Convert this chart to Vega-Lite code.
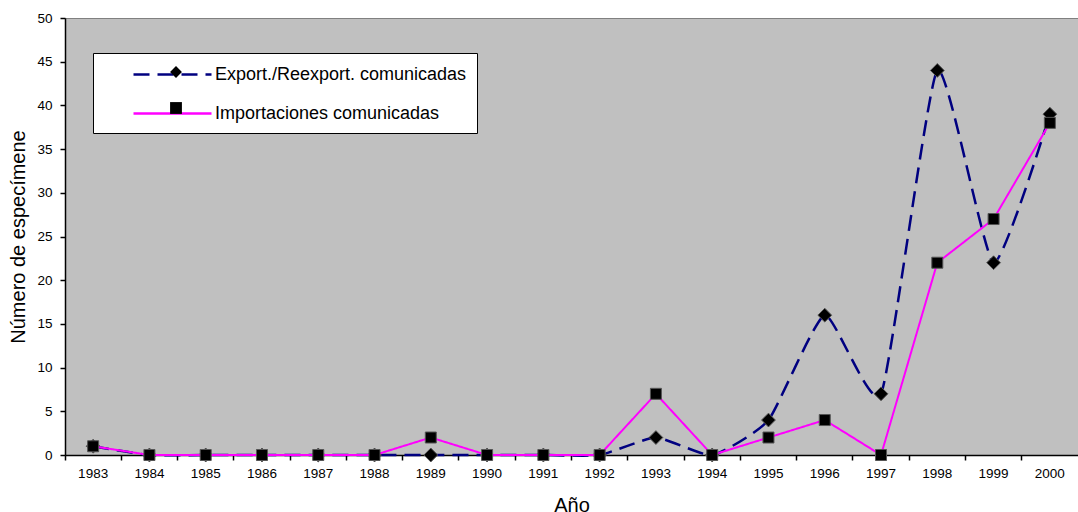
{
  "$schema": "https://vega.github.io/schema/vega-lite/v6.json",
  "width": 1013,
  "height": 437,
  "autosize": {"type": "none"},
  "padding": {"left": 65, "top": 18, "right": 0, "bottom": 57},
  "background": "white",
  "config": {
    "view": {"fill": "#C0C0C0", "stroke": "#808080", "strokeWidth": 1},
    "font": "Liberation Sans",
    "axis": {"grid": false, "labelFont": "Liberation Sans", "titleFont": "Liberation Sans", "labelColor": "black", "titleColor": "black", "tickColor": "black", "domainColor": "black", "titleFontWeight": "normal"}
  },
  "data": {
    "values": [
      {"anio": "1983", "serie": "Export./Reexport. comunicadas", "marca": "Export./Reexport. comunicadas", "valor": 1},
      {"anio": "1984", "serie": "Export./Reexport. comunicadas", "marca": "Export./Reexport. comunicadas", "valor": 0},
      {"anio": "1985", "serie": "Export./Reexport. comunicadas", "marca": "Export./Reexport. comunicadas", "valor": 0},
      {"anio": "1986", "serie": "Export./Reexport. comunicadas", "marca": "Export./Reexport. comunicadas", "valor": 0},
      {"anio": "1987", "serie": "Export./Reexport. comunicadas", "marca": "Export./Reexport. comunicadas", "valor": 0},
      {"anio": "1988", "serie": "Export./Reexport. comunicadas", "marca": "Export./Reexport. comunicadas", "valor": 0},
      {"anio": "1989", "serie": "Export./Reexport. comunicadas", "marca": "Export./Reexport. comunicadas", "valor": 0},
      {"anio": "1990", "serie": "Export./Reexport. comunicadas", "marca": "Export./Reexport. comunicadas", "valor": 0},
      {"anio": "1991", "serie": "Export./Reexport. comunicadas", "marca": "Export./Reexport. comunicadas", "valor": 0},
      {"anio": "1992", "serie": "Export./Reexport. comunicadas", "marca": "Export./Reexport. comunicadas", "valor": 0},
      {"anio": "1993", "serie": "Export./Reexport. comunicadas", "marca": "Export./Reexport. comunicadas", "valor": 2},
      {"anio": "1994", "serie": "Export./Reexport. comunicadas", "marca": "Export./Reexport. comunicadas", "valor": 0},
      {"anio": "1995", "serie": "Export./Reexport. comunicadas", "marca": "Export./Reexport. comunicadas", "valor": 4},
      {"anio": "1996", "serie": "Export./Reexport. comunicadas", "marca": "Export./Reexport. comunicadas", "valor": 16},
      {"anio": "1997", "serie": "Export./Reexport. comunicadas", "marca": "Export./Reexport. comunicadas", "valor": 7},
      {"anio": "1998", "serie": "Export./Reexport. comunicadas", "marca": "Export./Reexport. comunicadas", "valor": 44},
      {"anio": "1999", "serie": "Export./Reexport. comunicadas", "marca": "Export./Reexport. comunicadas", "valor": 22},
      {"anio": "2000", "serie": "Export./Reexport. comunicadas", "marca": "Export./Reexport. comunicadas", "valor": 39},
      {"anio": "1983", "serie": "Importaciones comunicadas", "marca": "Importaciones comunicadas", "valor": 1},
      {"anio": "1984", "serie": "Importaciones comunicadas", "marca": "Importaciones comunicadas", "valor": 0},
      {"anio": "1985", "serie": "Importaciones comunicadas", "marca": "Importaciones comunicadas", "valor": 0},
      {"anio": "1986", "serie": "Importaciones comunicadas", "marca": "Importaciones comunicadas", "valor": 0},
      {"anio": "1987", "serie": "Importaciones comunicadas", "marca": "Importaciones comunicadas", "valor": 0},
      {"anio": "1988", "serie": "Importaciones comunicadas", "marca": "Importaciones comunicadas", "valor": 0},
      {"anio": "1989", "serie": "Importaciones comunicadas", "marca": "Importaciones comunicadas", "valor": 2},
      {"anio": "1990", "serie": "Importaciones comunicadas", "marca": "Importaciones comunicadas", "valor": 0},
      {"anio": "1991", "serie": "Importaciones comunicadas", "marca": "Importaciones comunicadas", "valor": 0},
      {"anio": "1992", "serie": "Importaciones comunicadas", "marca": "Importaciones comunicadas", "valor": 0},
      {"anio": "1993", "serie": "Importaciones comunicadas", "marca": "Importaciones comunicadas", "valor": 7},
      {"anio": "1994", "serie": "Importaciones comunicadas", "marca": "Importaciones comunicadas", "valor": 0},
      {"anio": "1995", "serie": "Importaciones comunicadas", "marca": "Importaciones comunicadas", "valor": 2},
      {"anio": "1996", "serie": "Importaciones comunicadas", "marca": "Importaciones comunicadas", "valor": 4},
      {"anio": "1997", "serie": "Importaciones comunicadas", "marca": "Importaciones comunicadas", "valor": 0},
      {"anio": "1998", "serie": "Importaciones comunicadas", "marca": "Importaciones comunicadas", "valor": 22},
      {"anio": "1999", "serie": "Importaciones comunicadas", "marca": "Importaciones comunicadas", "valor": 27},
      {"anio": "2000", "serie": "Importaciones comunicadas", "marca": "Importaciones comunicadas", "valor": 38}
    ]
  },
  "encoding": {
    "x": {
      "field": "anio", "type": "ordinal", "bandPosition": 0.5,
      "scale": {"type": "band", "paddingInner": 0, "paddingOuter": 0},
      "axis": {"title": "Año", "titleFontSize": 20, "titlePadding": 16, "labelFontSize": 13.5, "labelAngle": 0, "tickSize": 5, "labelPadding": 6, "bandPosition": 0, "domainWidth": 1.5, "tickWidth": 1.5}
    },
    "y": {
      "field": "valor", "type": "quantitative",
      "scale": {"domain": [0, 50], "nice": false, "zero": true},
      "axis": {"title": "Número de especímene", "titleFontSize": 20, "titlePadding": 8, "values": [0, 5, 10, 15, 20, 25, 30, 35, 40, 45, 50], "labelFontSize": 13.5, "tickSize": 5, "labelPadding": 8, "domainWidth": 1.5, "tickWidth": 1.5}
    }
  },
  "layer": [
    {
      "transform": [{"filter": "datum.serie === 'Export./Reexport. comunicadas'"}],
      "mark": {"type": "line", "interpolate": "cardinal", "tension": 0.5, "strokeWidth": 2.5},
      "encoding": {
        "color": {
          "field": "serie", "type": "nominal",
          "scale": {"domain": ["Export./Reexport. comunicadas", "Importaciones comunicadas"], "range": ["#000080", "#FF00FF"]},
          "legend": {"orient": "none", "legendX": 28, "legendY": 35, "title": null, "fillColor": "white", "strokeColor": "black", "padding": 10, "symbolType": "M-3.9,0H3.9", "symbolSize": 400, "symbolStrokeWidth": 2.5, "symbolFillColor": "transparent", "symbolOffset": 58, "labelOffset": 31, "rowPadding": 18, "labelFont": "Liberation Sans", "labelFontSize": 18, "labelColor": "black", "labelLimit": 400, "zindex": 0}
        },
        "strokeDash": {
          "field": "serie", "type": "nominal",
          "scale": {"domain": ["Export./Reexport. comunicadas", "Importaciones comunicadas"], "range": [[16, 8], [1, 0]]}
        }
      }
    },
    {
      "transform": [{"filter": "datum.serie === 'Export./Reexport. comunicadas'"}],
      "mark": {"type": "point", "filled": true, "color": "black", "stroke": "#555555", "strokeWidth": 1, "size": 190, "opacity": 1},
      "encoding": {
        "shape": {
          "field": "marca", "type": "nominal",
          "scale": {"range": ["diamond", "square"]},
          "legend": {"orient": "none", "legendX": 28, "legendY": 35, "title": null, "padding": 10, "symbolSize": 140, "symbolFillColor": "black", "symbolStrokeColor": "#555555", "symbolStrokeWidth": 1, "symbolOffset": 64, "labelExpr": "''", "labelOpacity": 0, "labelFontSize": 18, "labelLimit": 400, "rowPadding": 18, "zindex": 1}
        }
      }
    },
    {
      "transform": [{"filter": "datum.serie === 'Importaciones comunicadas'"}],
      "mark": {"type": "line", "interpolate": "linear", "strokeWidth": 2},
      "encoding": {
        "color": {"field": "serie", "type": "nominal"},
        "strokeDash": {"field": "serie", "type": "nominal"}
      }
    },
    {
      "transform": [{"filter": "datum.serie === 'Importaciones comunicadas'"}],
      "mark": {"type": "point", "filled": true, "color": "black", "stroke": "#555555", "strokeWidth": 1, "size": 121, "opacity": 1},
      "encoding": {
        "shape": {"field": "marca", "type": "nominal"}
      }
    }
  ]
}
